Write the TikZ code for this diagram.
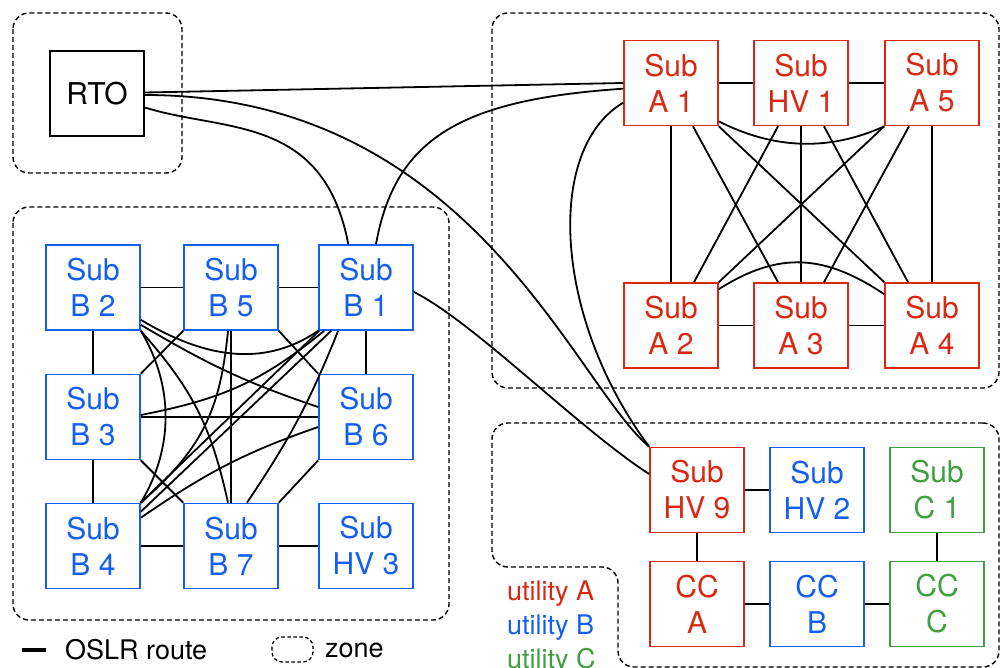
\documentclass[tikz,border=0pt]{standalone}
\usepackage{fontspec}
\setmainfont{TeX Gyre Heros}
\definecolor{utilA}{RGB}{218,40,18}
\definecolor{utilB}{RGB}{20,95,240}
\definecolor{utilC}{RGB}{64,160,64}
\begin{document}
\begin{tikzpicture}[x=1pt,y=-1pt,
  sub/.style={draw, line width=1.7pt, minimum width=94pt, minimum height=85pt,
    inner sep=0pt, align=center, font=\fontsize{30}{36}\selectfont},
  subA/.style={sub, draw=utilA, text=utilA},
  subB/.style={sub, draw=utilB, text=utilB},
  subC/.style={sub, draw=utilC, text=utilC},
  route/.style={line width=1.8pt, black},
  zone/.style={line width=1.4pt, dash pattern=on 5pt off 3pt, rounded corners=16pt},
  legend/.style={font=\fontsize{27}{32}\selectfont, inner sep=0pt}
]
\useasboundingbox (0,0) rectangle (1000,668);

% zones
\draw[zone] (13,13) rectangle (182,173);
\draw[zone] (13,207) rectangle (449,620);
\draw[zone] (492,13) rectangle (999,388);
\draw[zone] (999,423) -- (492,423) -- (492,567) -- (618,567) -- (618,667) -- (999,667) -- cycle;

% control centre of the RTO
\node[sub] (RTO) at (97,93.5) {RTO};

% utility B
\node[subB] (B2) at (93,287.5) {Sub\\B 2};
\node[subB] (B5) at (231,287.5) {Sub\\B 5};
\node[subB] (B1) at (366,287.5) {Sub\\B 1};
\node[subB] (B3) at (93,417) {Sub\\B 3};
\node[subB] (B6) at (366,417) {Sub\\B 6};
\node[subB] (B4) at (93,546) {Sub\\B 4};
\node[subB] (B7) at (231,546) {Sub\\B 7};
\node[subB] (HV3) at (366,546) {Sub\\HV 3};

% utility A
\node[subA] (A1) at (671,83) {Sub\\A 1};
\node[subA] (HV1) at (801,83) {Sub\\HV 1};
\node[subA] (A5) at (932,83) {Sub\\A 5};
\node[subA] (A2) at (671,325.5) {Sub\\A 2};
\node[subA] (A3) at (801,325.5) {Sub\\A 3};
\node[subA] (A4) at (932,325.5) {Sub\\A 4};

% lower zone
\node[subA] (HV9) at (697,490) {Sub\\HV 9};
\node[subB] (HV2) at (817,490) {Sub\\HV 2};
\node[subC] (C1) at (937,490) {Sub\\C 1};
\node[subA] (CCA) at (697,604) {CC\\A};
\node[subB] (CCB) at (817,604) {CC\\B};
\node[subC] (CCC) at (937,604) {CC\\C};

% routes of utility A
\draw[route] (A1.east) -- (HV1.west);
\draw[route] (HV1.east) -- (A5.west);
\draw[route] (A2.east) -- (A3.west);
\draw[route] (A3.east) -- (A4.west);
\draw[route] (A1.south) -- (A2.north);
\draw[route] (HV1.south) -- (A3.north);
\draw[route] (A5.south) -- (A4.north);
\draw[route] ([xshift=22pt]A1.south) -- ([xshift=-23pt]A3.north);
\draw[route] (A1.south east) -- (A4.north west);
\draw[route] ([xshift=-23pt]HV1.south) -- ([xshift=23pt]A2.north);
\draw[route] ([xshift=23pt]HV1.south) -- ([xshift=-24pt]A4.north);
\draw[route] (A5.south west) -- (A2.north east);
\draw[route] ([xshift=-23pt]A5.south) -- ([xshift=23pt]A3.north);
\draw[route] ([yshift=5pt]A1.south east) .. controls +(55,28) and +(-55,25) .. (A5.south west);
\draw[route] ([yshift=-7pt]A2.north east) .. controls +(60,-38) and +(-60,-40) .. ([yshift=-12pt]A4.north west);

% routes leaving the RTO and utility A
\draw[route] ([yshift=1pt]RTO.east) -- (A1.west);
\draw[route] ([yshift=-1.5pt]RTO.east) .. controls +(326,0) and +(-75,-62.5) .. (HV9.north west);
\draw[route] ([yshift=-14pt]RTO.east) .. controls +(80,25) and +(-25,-130) .. ([xshift=-17.7pt]B1.north);
\draw[route] ([yshift=-5.7pt]A1.west) .. controls +(-164,11) and +(19,-105) .. ([xshift=10pt]B1.north);
\draw[route] ([yshift=-19.7pt]A1.west) .. controls +(-79,47) and +(-95,-127.5) .. (HV9.north west);
\draw[route] ([yshift=-4.5pt]B1.east) .. controls +(60,30) and +(-70,-45) .. ([yshift=16pt]HV9.west);

% routes of utility B
\draw[route] (B2.east) -- (B5.west);
\draw[route] (B5.east) -- (B1.west);
\draw[route] (B2.south) -- (B3.north);
\draw[route] (B3.south) -- (B4.north);
\draw[route] (B1.south) -- (B6.north);
\draw[route] (B5.south) -- (B7.north);
\draw[route] (B3.east) -- (B6.west);
\draw[route] (B4.east) -- (B7.west);
\draw[route] (B7.east) -- (HV3.west);
\draw[route] (B5.south west) -- (B3.north east);
\draw[route] (B5.south east) -- (B6.north west);
\draw[route] (B3.south east) -- (B7.north west);
\draw[route] (B6.south west) -- (B7.north east);
\draw[route] ([yshift=11pt]B2.south east) .. controls +(70,42) and +(-50,34) .. (B1.south west);
\draw[route] ([yshift=6pt]B2.south east) .. controls +(68,40) and +(-74,-25) .. ([yshift=10pt]B6.west);
\draw[route] (B2.south east) .. controls +(52,59) and +(-17,-77) .. ([xshift=-3pt]B7.north);
\draw[route] (B2.south east) .. controls +(33,55) and +(33,-55) .. (B4.north east);
\draw[route] ([xshift=-3pt]B5.south) .. controls +(-8,81) and +(61,-54) .. (B4.north east);
\draw[route] ([xshift=6pt]B1.south west) .. controls +(-64,52) and +(81,-16) .. ([yshift=2pt]B3.east);
\draw[route] ([xshift=1pt]B1.south west) -- (B4.north east);
\draw[route] ([xshift=13pt]B1.south west) -- ([yshift=-9pt]B4.north east);
\draw[route] ([xshift=20pt]B1.south west) .. controls +(-29,72) and +(43,-64) .. ([xshift=16pt]B7.north);
\draw[route] ([yshift=-10pt]B6.west) .. controls +(-75,26) and +(66,-45) .. ([yshift=-15pt]B4.north east);

% routes of the lower zone
\draw[route] (HV9.east) -- (HV2.west);
\draw[route] (HV9.south) -- (CCA.north);
\draw[route] (CCA.east) -- (CCB.west);
\draw[route] (CCB.east) -- (CCC.west);
\draw[route] (C1.south) -- (CCC.north);

% legend
\coordinate (lineL) at (22,650);
\coordinate (lineR) at (46,650);
\draw[line width=3.2pt] (lineL) -- (lineR);
\node[legend, anchor=west] (oslr) at (65,650) {OSLR route};
\draw[line width=1.3pt, dash pattern=on 3.5pt off 2.5pt, rounded corners=10pt] (272,637) rectangle (313,662);
\node[legend, anchor=west] (zonetext) at (325,650) {zone};
\node[legend, anchor=base west, text=utilA] (utA) at (507,600) {utility A};
\node[legend, anchor=base west, text=utilB] (utB) at (507,634) {utility B};
\node[legend, anchor=base west, text=utilC] (utC) at (507,668) {utility C};
\end{tikzpicture}
\end{document}
